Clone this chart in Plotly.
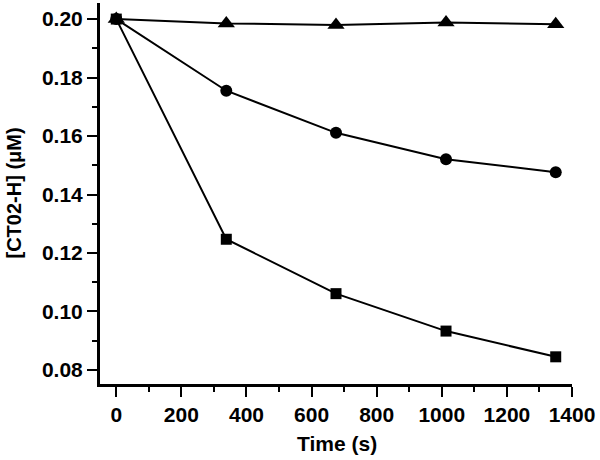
import plotly.graph_objects as go

time_s = [0, 338, 675, 1013, 1350]
triangle_vals = [0.2000, 0.1985, 0.1980, 0.1988, 0.1982]
circle_vals = [0.2000, 0.1755, 0.1611, 0.1521, 0.1476]
square_vals = [0.2000, 0.1247, 0.1061, 0.0933, 0.0845]

x_ticks = [0, 200, 400, 600, 800, 1000, 1200, 1400]
y_ticks = [0.08, 0.10, 0.12, 0.14, 0.16, 0.18, 0.20]

fig = go.Figure()
series = [
    (triangle_vals, "triangle-up", 15),
    (circle_vals, "circle", 12),
    (square_vals, "square", 11),
]
for vals, sym, size in series:
    fig.add_trace(go.Scatter(
        x=time_s, y=vals, mode="lines+markers",
        line=dict(color="black", width=2),
        marker=dict(symbol=sym, size=size, color="black"),
        showlegend=False, cliponaxis=False,
    ))

fam = "Liberation Sans, Arial, sans-serif"
font = dict(family=fam, size=21, color="black")

fig.update_layout(
    width=600, height=460,
    margin=dict(l=100, r=28, t=3, b=76, autoexpand=False),
    paper_bgcolor="white", plot_bgcolor="white",
    font=font,
    xaxis=dict(
        range=[-50, 1400], tickvals=x_ticks, ticktext=[f"<b>{v}</b>" for v in x_ticks],
        showline=True, linecolor="black", linewidth=3, mirror=False,
        ticks="outside", ticklen=10, tickwidth=2, tickcolor="black",
        minor=dict(ticks="outside", dtick=100, tick0=0, ticklen=5, tickwidth=2, tickcolor="black"),
        showgrid=False, zeroline=False, automargin=False,
        tickfont=dict(family=fam, size=21, color="black"),
    ),
    yaxis=dict(
        range=[0.0752, 0.2055], tickvals=y_ticks, ticktext=[f"<b>{v:.2f}</b>" for v in y_ticks],
        showline=True, linecolor="black", linewidth=3, mirror=False,
        ticks="outside", ticklen=10, tickwidth=2, tickcolor="black",
        minor=dict(ticks="outside", dtick=0.01, tick0=0.08, ticklen=5, tickwidth=2, tickcolor="black"),
        showgrid=False, zeroline=False, automargin=False,
        tickfont=dict(family=fam, size=21, color="black"),
    ),
    annotations=[
        dict(text="<b>Time (s)</b>", xref="paper", yref="paper", x=0.502, y=0, yshift=-59,
             showarrow=False, xanchor="center", yanchor="middle",
             font=dict(family=fam, size=21, color="black")),
        dict(text="<b>[CT02-H] (μM)</b>", xref="paper", yref="paper", x=0, xshift=-87, y=0.5,
             showarrow=False, xanchor="center", yanchor="middle", textangle=-90,
             font=dict(family=fam, size=20, color="black")),
    ],
)

fig.write_html("out.html", config={"displayModeBar": False},
               post_script="document.body.style.margin='0';document.body.style.padding='0';")
